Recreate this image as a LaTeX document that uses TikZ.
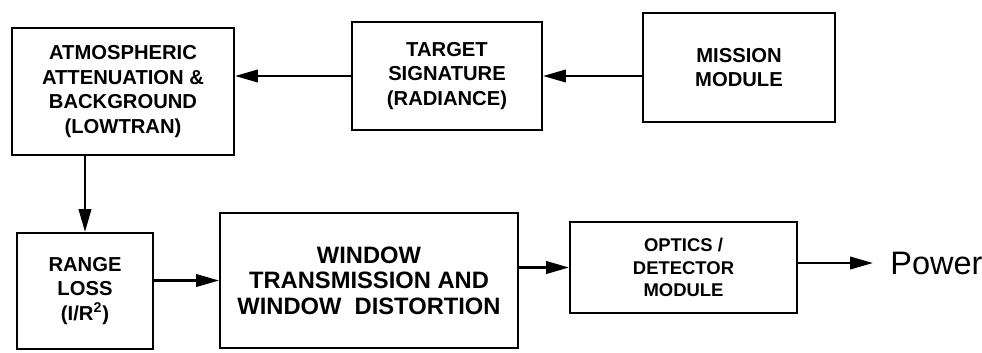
\documentclass[tikz,border=0pt]{standalone}
\usepackage{fontspec}
\setmainfont{Liberation Sans}
\usetikzlibrary{arrows.meta}

\begin{document}
\begin{tikzpicture}[x=0.02cm, y=-0.02cm,
  block/.style={draw, line width=1.1pt, align=center, inner sep=2pt,
    font=\fontsize{11.5}{14}\selectfont\bfseries},
  flow/.style={line width=1.5pt, -{Triangle[length=13pt,width=7pt]}}]
  \useasboundingbox (0,0) rectangle (982,352);

  \node[block, minimum width=4.44cm, minimum height=2.54cm] (atmos)   at (123,91.5) {ATMOSPHERIC\\ATTENUATION \&\\BACKGROUND\\(LOWTRAN)};
  \node[block, minimum width=3.8cm,  minimum height=2.16cm] (target)  at (447,76)   {TARGET\\SIGNATURE\\(RADIANCE)};
  \node[block, minimum width=3.84cm, minimum height=2.18cm] (mission) at (739,67.5) {MISSION\\MODULE};
  \node[block, minimum width=2.72cm, minimum height=2.32cm] (range)   at (85,291)   {RANGE\\LOSS\\(I/R\textsuperscript{2})};
  \node[block, minimum width=5.96cm, minimum height=2.7cm,
    font=\fontsize{13.5}{14.5}\selectfont\bfseries]           (window)  at (369,280.5) {WINDOW\\TRANSMISSION AND\\WINDOW\ \ DISTORTION};
  \node[block, minimum width=4.54cm, minimum height=1.82cm,
    font=\fontsize{10.5}{13}\selectfont\bfseries]             (optics)  at (683.5,267.5) {OPTICS /\\DETECTOR\\MODULE};
  \node[anchor=west, inner xsep=0.34cm, font=\fontsize{18.5}{21}\selectfont] (power) at (873,263) {Power};

  \draw[flow] (mission.west |- target) -- (target.east);
  \draw[flow] (target.west) -- (target.west -| atmos.east);
  \draw[flow] (atmos.south -| range) -- (range.north);
  \draw[flow] (range.east |- window) -- (window.west);
  \draw[flow] (window.east |- optics) -- (optics.west);
  \draw[flow] (optics.east |- power) -- (power.west);
\end{tikzpicture}
\end{document}
